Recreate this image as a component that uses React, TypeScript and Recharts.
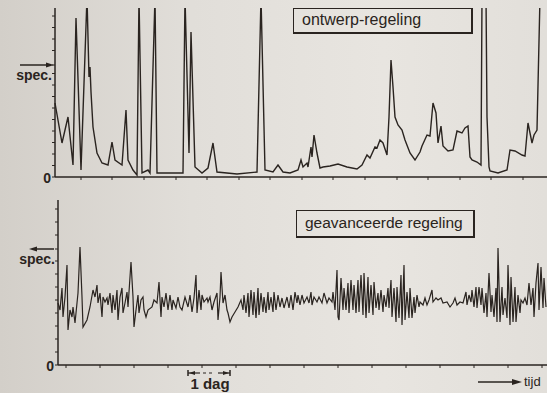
import React from 'react';
import { LineChart, Line, XAxis, YAxis } from 'recharts';

// bovenste grafiek: ontwerp-regeling (tijd in beeldeenheden, niveau boven de nullijn)
const topTime = [
  0, 7, 13, 18, 21, 26, 32, 34, 35, 36, 38, 42, 47, 53, 57, 60, 67, 71, 73, 78,
  82, 84, 87, 93, 95, 100, 102, 112, 120, 128, 130, 134, 136, 140, 147, 153, 158, 162, 182, 202,
  206, 210, 218, 223, 228, 235, 243, 246, 248, 252, 253, 256, 257, 259, 262, 265, 268, 275, 283, 292,
  302, 307, 312, 315, 320, 322, 325, 328, 332, 334, 336, 338, 340, 343, 347, 350, 355, 360, 365, 367,
  372, 375, 378, 381, 383, 386, 388, 393, 398, 402, 407, 410, 413, 415, 417, 422, 426, 427, 431, 432,
  434, 435, 443, 452, 455, 460, 467, 470, 473, 477, 479, 482, 485,
];
const topLevel = [
  74, 34, 60, 12, 159, 7, 180, 100, 110, 85, 50, 24, 14, 12, 35, 17, 12, 67, 17, 7,
  2, 180, 4, 7, 4, 180, 4, 4, 4, 4, 180, 24, 145, 10, 4, 9, 34, 5, 3, 5,
  180, 7, 5, 12, 5, 4, 7, 17, 10, 14, 10, 30, 20, 42, 24, 9, 10, 11, 13, 10,
  8, 12, 22, 19, 30, 29, 37, 34, 22, 60, 117, 90, 60, 52, 47, 37, 24, 17, 25, 31,
  42, 41, 74, 64, 34, 51, 31, 26, 27, 46, 44, 49, 51, 20, 17, 15, 12, 180, 180, 60,
  10, 6, 4, 7, 27, 26, 22, 21, 54, 34, 42, 47, 180,
];

// onderste grafiek: geavanceerde regeling
const bottomTime = [
  0, 2, 4, 5, 7, 9, 10, 12, 14, 15, 17, 19, 20, 22, 24, 25, 29, 32, 35, 37,
  39, 40, 42, 44, 45, 47, 49, 50, 52, 54, 55, 57, 59, 60, 62, 64, 65, 67, 69, 70,
  73, 75, 76, 78, 80, 81, 83, 85, 86, 88, 90, 94, 96, 99, 101, 103, 104, 106, 108, 110,
  112, 114, 115, 118, 120, 122, 124, 127, 130, 132, 134, 136, 138, 139, 141, 143, 144, 146, 149, 150,
  152, 154, 156, 159, 160, 162, 163, 165, 167, 169, 170, 172, 174, 177, 180, 183, 185, 186, 188, 190,
  191, 193, 195, 196, 198, 200, 201, 203, 205, 206, 208, 210, 211, 213, 215, 216, 218, 220, 222, 224,
  226, 229, 231, 233, 235, 237, 239, 240, 242, 244, 246, 249, 251, 253, 254, 256, 259, 261, 264, 266,
  269, 271, 274, 275, 277, 279, 280, 281, 283, 285, 286, 288, 290, 291, 293, 295, 296, 298, 300, 301,
  303, 305, 306, 308, 310, 311, 313, 315, 316, 318, 320, 321, 323, 325, 326, 328, 330, 331, 333, 334,
  336, 338, 339, 341, 343, 344, 346, 347, 349, 351, 352, 354, 356, 357, 359, 361, 362, 365, 367, 369,
  371, 374, 375, 378, 380, 383, 385, 389, 392, 395, 397, 399, 402, 405, 408, 409, 411, 413, 414, 416,
  418, 419, 421, 423, 424, 426, 428, 429, 431, 433, 434, 436, 438, 439, 440, 442, 444, 445, 447, 449,
  450, 452, 453, 455, 457, 458, 460, 462, 463, 465, 467, 469, 471, 473, 475, 476, 478, 480, 481, 483,
  485, 486, 488,
];
const bottomLevel = [
  62, 55, 77, 48, 68, 100, 35, 55, 48, 58, 42, 62, 72, 118, 68, 38, 45, 58, 75, 68,
  80, 62, 72, 48, 68, 63, 67, 60, 72, 52, 70, 55, 75, 45, 68, 77, 52, 62, 73, 58,
  103, 68, 38, 55, 70, 52, 65, 68, 55, 48, 55, 58, 65, 62, 83, 48, 68, 58, 72, 55,
  70, 55, 65, 57, 68, 58, 55, 68, 58, 70, 53, 67, 90, 52, 75, 55, 70, 63, 67, 63,
  68, 55, 63, 72, 45, 68, 93, 62, 70, 55, 52, 43, 48, 53, 58, 65, 55, 70, 52, 72,
  48, 75, 50, 73, 47, 77, 50, 72, 53, 68, 52, 73, 55, 68, 53, 73, 55, 70, 58, 67,
  57, 68, 57, 70, 55, 73, 62, 70, 60, 70, 62, 68, 62, 73, 60, 68, 63, 68, 62, 72,
  62, 67, 63, 73, 55, 95, 48, 45, 87, 55, 77, 55, 82, 52, 85, 55, 80, 52, 85, 53,
  90, 50, 92, 47, 88, 52, 80, 50, 83, 57, 72, 55, 75, 53, 70, 58, 77, 57, 85, 48,
  77, 43, 78, 47, 90, 40, 100, 45, 73, 47, 77, 47, 68, 52, 70, 58, 63, 60, 67, 60,
  65, 75, 63, 67, 65, 67, 62, 63, 58, 62, 67, 60, 63, 62, 73, 60, 70, 63, 75, 58,
  78, 57, 78, 60, 77, 52, 72, 48, 92, 53, 70, 48, 77, 43, 117, 43, 78, 50, 67, 47,
  100, 40, 88, 43, 78, 43, 70, 52, 65, 62, 67, 60, 82, 60, 77, 48, 82, 102, 55, 98,
  57, 87, 58,
];

const topSpec = 112;
const bottomSpec = 116;
const topYTicks = [0, 11.5, 23, 34.5, 46, 57.5, 69, 80.5, 92, 103.5, topSpec, 126.5, 138, 149.5, 161];
const bottomYTicks = [0, 13, 26, 39, 52, 65, 78, 91, 104, bottomSpec, 130, 143, 156];
const topXTicks = [26, 57, 89, 121, 152, 184, 215, 247, 278, 310, 342, 373, 405, 436, 468];
const bottomXTicks = [8, 42, 76, 110, 144, 178, 212, 246, 280, 314, 348, 382, 416, 450, 484];

const topData = topTime.map((t, i) => ({ t, v: topLevel[i] }));
const bottomData = bottomTime.map((t, i) => ({ t, v: bottomLevel[i] }));

const ink = '#2a2420';
const font = '"Liberation Sans", Arial, sans-serif';

function SpecTick({ x, y, payload, spec, arrowLeft }: any) {
  if (payload.value === 0) {
    return (
      <text x={x + 1} y={y + 6} textAnchor="end" fontFamily={font} fontWeight="bold" fontSize={14} fill={ink}>
        0
      </text>
    );
  }
  if (payload.value === spec) {
    const x0 = arrowLeft ? x - 20 : x - 30;
    const x1 = x + 1;
    return (
      <g>
        <line x1={x0} y1={y} x2={x1} y2={y} stroke={ink} strokeWidth={1.5} />
        {arrowLeft ? (
          <polygon points={`${x0 - 4},${y} ${x0 + 4},${y - 2.5} ${x0 + 4},${y + 2.5}`} fill={ink} />
        ) : (
          <polygon points={`${x1 + 3},${y} ${x1 - 5},${y - 2.5} ${x1 - 5},${y + 2.5}`} fill={ink} />
        )}
        <text x={x1 + 1} y={y + 15} textAnchor="end" fontFamily={font} fontWeight="bold" fontSize={14} fill={ink}>
          spec.
        </text>
      </g>
    );
  }
  return <g />;
}

const NoLabel = () => <g />;

const boxStyle = (left: number, top: number, width: number, height: number, size: number): React.CSSProperties => ({
  position: 'absolute',
  left,
  top,
  width,
  height,
  boxSizing: 'border-box',
  border: `1.5px solid ${ink}`,
  borderRightWidth: 2.5,
  borderBottomWidth: 2.5,
  fontFamily: font,
  fontSize: size,
  color: ink,
  paddingLeft: 8,
  lineHeight: `${height - 4}px`,
  whiteSpace: 'nowrap',
});

export default function App() {
  return (
    <div
      style={{
        position: 'fixed',
        left: 0,
        top: 0,
        width: 547,
        height: 393,
        overflow: 'hidden',
        background: 'linear-gradient(90deg, #d3cfc9 0%, #e1ded9 35%, #e8e5e0 70%, #e2dfda 100%)',
      }}
    >
      <div style={{ position: 'absolute', left: 0, top: 0 }}>
        <LineChart width={547} height={190} data={topData} margin={{ top: 8, right: 0, bottom: 0, left: 0 }}>
          <XAxis
            dataKey="t"
            type="number"
            domain={[0, 492]}
            ticks={topXTicks}
            interval={0}
            tick={NoLabel}
            tickSize={3}
            height={13}
            axisLine={{ stroke: ink, strokeWidth: 1.5 }}
            tickLine={{ stroke: ink, strokeWidth: 1 }}
          />
          <YAxis
            type="number"
            domain={[0, 169]}
            allowDataOverflow
            ticks={topYTicks}
            interval={0}
            width={55}
            tickSize={3}
            axisLine={{ stroke: ink, strokeWidth: 1.5 }}
            tickLine={{ stroke: ink, strokeWidth: 1 }}
            tick={(p: any) => <SpecTick {...p} spec={topSpec} />}
          />
          <Line type="linear" dataKey="v" stroke={ink} strokeWidth={1.4} dot={false} isAnimationActive={false} />
        </LineChart>
      </div>

      <div style={{ position: 'absolute', left: 0, top: 192 }}>
        <LineChart width={547} height={186} data={bottomData} margin={{ top: 8, right: 0, bottom: 0, left: 0 }}>
          <XAxis
            dataKey="t"
            type="number"
            domain={[0, 489]}
            ticks={bottomXTicks}
            interval={0}
            tick={NoLabel}
            tickSize={3}
            height={13}
            axisLine={{ stroke: ink, strokeWidth: 1.5 }}
            tickLine={{ stroke: ink, strokeWidth: 1 }}
          />
          <YAxis
            type="number"
            domain={[0, 165]}
            allowDataOverflow
            ticks={bottomYTicks}
            interval={0}
            width={58}
            tickSize={3}
            axisLine={{ stroke: ink, strokeWidth: 1.5 }}
            tickLine={{ stroke: ink, strokeWidth: 1 }}
            tick={(p: any) => <SpecTick {...p} spec={bottomSpec} arrowLeft />}
          />
          <Line type="linear" dataKey="v" stroke={ink} strokeWidth={1.2} dot={false} isAnimationActive={false} />
        </LineChart>
      </div>

      <div style={boxStyle(293, 8, 180, 26, 16)}>ontwerp-regeling</div>
      <div style={boxStyle(296, 210, 179, 28, 15.5)}>geavanceerde regeling</div>

      <svg width={547} height={393} style={{ position: 'absolute', left: 0, top: 0, pointerEvents: 'none' }}>
        {/* 1 dag */}
        <line x1={188} y1={370} x2={188} y2={376} stroke={ink} strokeWidth={1.5} />
        <line x1={230} y1={370} x2={230} y2={376} stroke={ink} strokeWidth={1.5} />
        <line x1={188} y1={373} x2={200} y2={373} stroke={ink} strokeWidth={1.2} />
        <line x1={203} y1={373} x2={214} y2={373} stroke={ink} strokeWidth={1.2} strokeDasharray="3 3" />
        <line x1={218} y1={373} x2={230} y2={373} stroke={ink} strokeWidth={1.2} />
        <polygon points="189,373 195,371 195,375" fill={ink} />
        <polygon points="229,373 223,371 223,375" fill={ink} />
        <text x={210} y={389} textAnchor="middle" fontFamily={font} fontWeight="bold" fontSize={15} fill={ink}>
          1 dag
        </text>
        {/* tijd */}
        <line x1={478} y1={382} x2={515} y2={382} stroke={ink} strokeWidth={1.5} />
        <polygon points="522,382 512,379 512,385" fill={ink} />
        <text x={524} y={386} fontFamily={font} fontSize={13} fill={ink}>
          tijd
        </text>
      </svg>
    </div>
  );
}
